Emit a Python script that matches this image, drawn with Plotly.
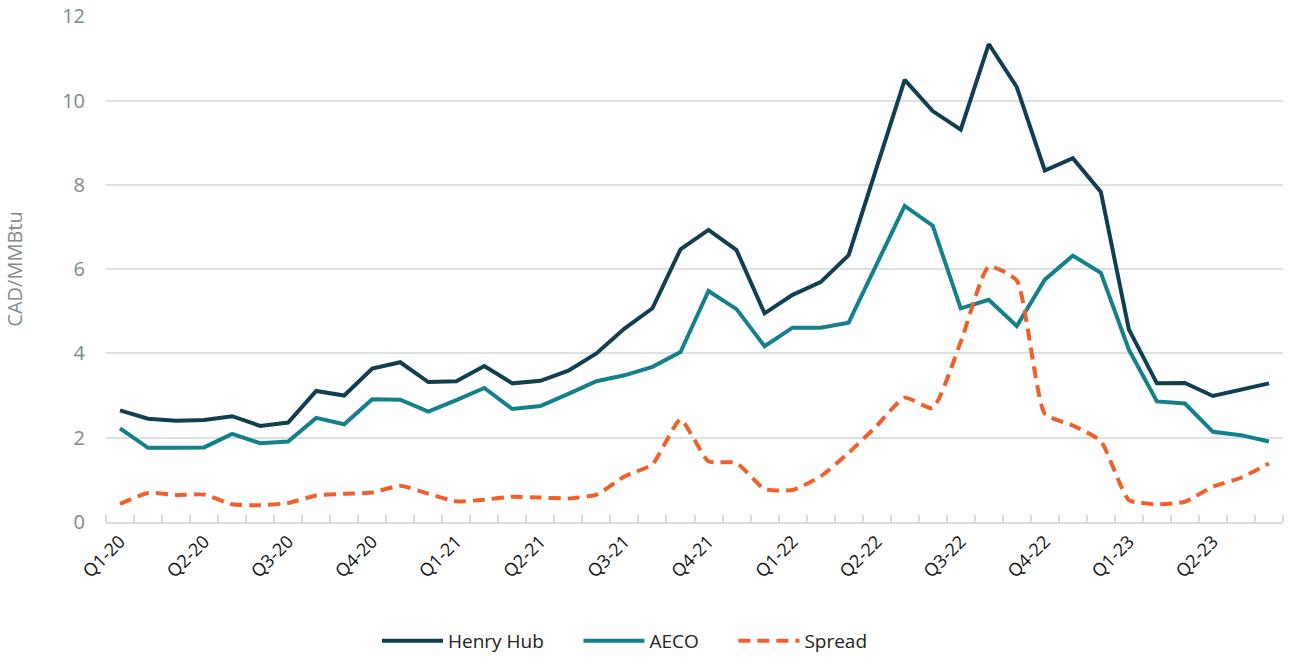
import plotly.graph_objects as go

months = [f"{m}-{y}" for y in ["20", "21", "22", "23"] for m in
          ["Jan", "Feb", "Mar", "Apr", "May", "Jun", "Jul", "Aug", "Sep", "Oct", "Nov", "Dec"]][:42]

henry_hub = [2.65, 2.45, 2.40, 2.42, 2.51, 2.28, 2.36, 3.11, 3.00, 3.64, 3.79, 3.32, 3.34, 3.70,
             3.29, 3.35, 3.59, 4.00, 4.59, 5.07, 6.47, 6.93, 6.45, 4.95, 5.39, 5.69, 6.33, 8.40,
             10.49, 9.75, 9.31, 11.34, 10.32, 8.34, 8.63, 7.83, 4.57, 3.29, 3.30, 2.99, 3.13, 3.29]
aeco = [2.22, 1.76, 1.76, 1.77, 2.09, 1.87, 1.91, 2.47, 2.32, 2.91, 2.90, 2.62, 2.89, 3.18,
        2.68, 2.75, 3.04, 3.34, 3.48, 3.68, 4.03, 5.48, 5.05, 4.17, 4.61, 4.61, 4.73, 6.12,
        7.50, 7.03, 5.07, 5.27, 4.65, 5.75, 6.32, 5.91, 4.09, 2.86, 2.81, 2.14, 2.06, 1.91]
spread = [0.43, 0.69, 0.64, 0.65, 0.42, 0.40, 0.45, 0.63, 0.67, 0.70, 0.86, 0.67, 0.49, 0.53,
          0.60, 0.58, 0.56, 0.65, 1.08, 1.37, 2.43, 1.44, 1.40, 0.78, 0.76, 1.08, 1.64, 2.28,
          2.95, 2.70, 4.27, 6.06, 5.73, 2.57, 2.29, 1.92, 0.52, 0.42, 0.48, 0.84, 1.05, 1.39]

quarter_labels = ["Q1-20", "Q2-20", "Q3-20", "Q4-20", "Q1-21", "Q2-21", "Q3-21", "Q4-21",
                  "Q1-22", "Q2-22", "Q3-22", "Q4-22", "Q1-23", "Q2-23"]

x = list(range(len(months)))
pad = "\u00a0" * 6

fig = go.Figure()
fig.add_trace(go.Scatter(x=x, y=henry_hub, name="Henry Hub" + pad, mode="lines",
                         line=dict(color="#123f50", width=4), hovertext=months))
fig.add_trace(go.Scatter(x=x, y=aeco, name="AECO" + pad, mode="lines",
                         line=dict(color="#13808a", width=4), hovertext=months))
fig.add_trace(go.Scatter(x=x, y=spread, name="Spread", mode="lines",
                         line=dict(color="#f2602a", width=4, dash="12px,7px",
                                   shape="spline", smoothing=0.5), hovertext=months))

fig.update_layout(
    width=1293, height=659,
    margin=dict(l=106, r=10, t=16, b=137, autoexpand=False),
    paper_bgcolor="white", plot_bgcolor="white",
    font=dict(family="Open Sans, sans-serif", color="#222222"),
    showlegend=True,
    legend=dict(orientation="h", x=(625 - 106) / 1177, xanchor="center",
                y=-(641 - 522) / 506, yanchor="middle", itemwidth=61,
                font=dict(size=19, color="#222222"), tracegroupgap=0),
)
fig.update_xaxes(
    range=[-0.5, len(months) - 0.5],
    tickmode="array",
    tickvals=[3 * i for i in range(len(quarter_labels))],
    ticktext=quarter_labels,
    tickangle=-45,
    tickfont=dict(size=18, color="#111111"),
    ticks="",
    automargin=False,
    showgrid=False,
    showline=True, linecolor="#d6dedd", linewidth=2,
    minor=dict(tickmode="array", tickvals=[i - 0.5 for i in range(len(months) + 1)],
               ticks="inside", ticklen=7, tickcolor="#d6dedd", tickwidth=2, showgrid=False),
    zeroline=False,
)
fig.update_yaxes(
    range=[0, 12.005],
    tickvals=[0, 2, 4, 6, 8, 10, 12],
    tickfont=dict(size=20, color="#7d8c8c"),
    showgrid=True, gridcolor="#dbe2e1", gridwidth=2,
    zeroline=False, showline=False,
    automargin=False,
    ticklabelstandoff=20,
    title=dict(text="CAD/MMBtu", font=dict(size=20, color="#7d8c8c"), standoff=34),
)

fig.write_html("out.html", config={"displayModeBar": False},
               post_script="document.body.style.margin='0';")
